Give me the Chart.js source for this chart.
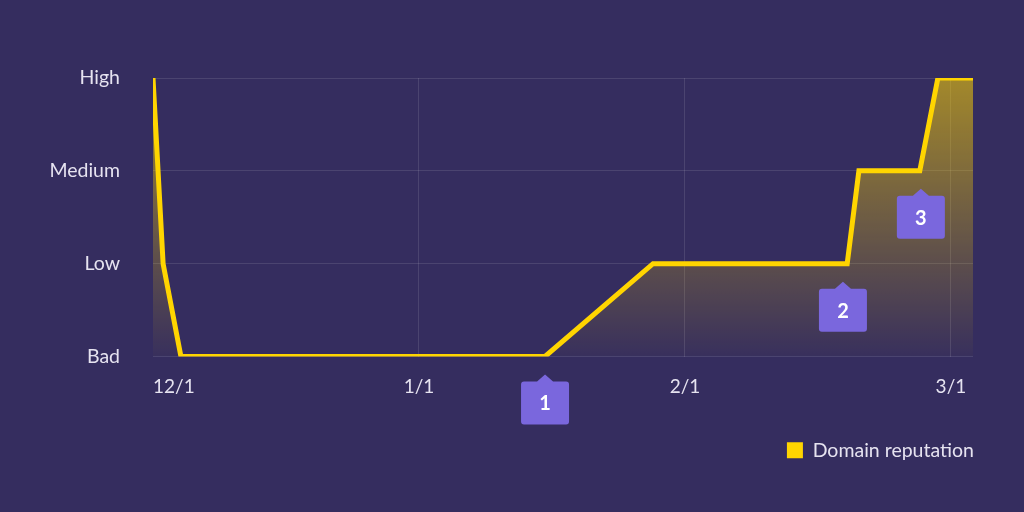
<!DOCTYPE html>
<html>
<head>
<meta charset="utf-8">
<script src="https://cdn.jsdelivr.net/npm/chart.js@4/dist/chart.umd.min.js"></script>
<style>
  html, body { margin: 0; padding: 0; background: #352d5f; }
  #wrap { width: 1024px; height: 512px; }
</style>
</head>
<body>
<div id="wrap"><canvas id="chart" width="1024" height="512"></canvas></div>
<script>
// reputation levels, bottom to top
const levels = ['Bad', 'Low', 'Medium', 'High'];
// x in months since 12/1
const monthLabels = ['12/1', '1/1', '2/1', '3/1'];
const xMax = 3.083;
const pointX = [0, 0.038, 0.105, 1.474, 1.88, 2.61, 2.654, 2.883, 2.951, 3.083];
const pointLevel = [3, 1, 0, 0, 1, 1, 2, 2, 3, 3];
// numbered callouts under the line
const markerText = ['1', '2', '3'];
const markerX = [1.474, 2.594, 2.887];
const markerLevel = [0, 1, 2];

const yellow = '#ffd500';
const textColor = '#e6e3f0';
const gridColor = 'rgba(255,255,255,0.11)';

const markers = {
    id: 'markers',
    afterDatasetsDraw(chart) {
        const { ctx, scales: { x, y } } = chart;
        ctx.save();
        markerText.forEach((t, i) => {
            const px = x.getPixelForValue(markerX[i]);
            const tip = y.getPixelForValue(markerLevel[i]) + 18;
            const w = 48, h = 43, top = tip + 7, left = px - 24, r = 3;
            ctx.fillStyle = '#7a67dd';
            ctx.beginPath();
            ctx.moveTo(left + r, top);
            ctx.lineTo(px - 8, top);
            ctx.lineTo(px, tip);
            ctx.lineTo(px + 8, top);
            ctx.lineTo(left + w - r, top);
            ctx.quadraticCurveTo(left + w, top, left + w, top + r);
            ctx.lineTo(left + w, top + h - r);
            ctx.quadraticCurveTo(left + w, top + h, left + w - r, top + h);
            ctx.lineTo(left + r, top + h);
            ctx.quadraticCurveTo(left, top + h, left, top + h - r);
            ctx.lineTo(left, top + r);
            ctx.quadraticCurveTo(left, top, left + r, top);
            ctx.fill();
            ctx.fillStyle = '#ffffff';
            ctx.font = 'bold 20px Lato';
            ctx.textAlign = 'center';
            ctx.textBaseline = 'middle';
            ctx.fillText(t, px, top + h / 2 + 1);
        });
        ctx.restore();
    }
};

// push the legend flush with the plot's right edge
const legendShift = {
    id: 'legendShift',
    afterLayout(chart) {
        if (chart.legend) {
            chart.legend.left += 11;
            chart.legend.right += 11;
        }
    }
};

const canvas = document.getElementById('chart');
new Chart(canvas.getContext('2d'), {
    type: 'line',
    data: {
        datasets: [{
            label: 'Domain reputation',
            data: pointX.map((v, i) => ({ x: v, y: pointLevel[i] })),
            borderColor: yellow,
            backgroundColor: yellow,
            borderWidth: 5,
            borderJoinStyle: 'miter',
            pointRadius: 0,
            tension: 0,
            fill: {
                target: 'origin',
                above: function(context) {
                    const area = context.chart.chartArea;
                    if (!area) return 'rgba(255,213,0,0.3)';
                    const g = context.chart.ctx.createLinearGradient(0, area.top, 0, area.bottom);
                    g.addColorStop(0, 'rgba(255,213,0,0.55)');
                    g.addColorStop(1, 'rgba(255,213,0,0.02)');
                    return g;
                }
            }
        }]
    },
    options: {
        responsive: false,
        animation: false,
        layout: { padding: { left: 50, right: 51, top: 78, bottom: 42 } },
        scales: {
            x: {
                type: 'linear',
                min: 0,
                max: xMax,
                afterBuildTicks: scale => {
                    scale.ticks = [0, 1, 2, 3, xMax].map(v => ({ value: v }));
                },
                afterFit: scale => { scale.height = 74; },
                ticks: {
                    align: 'inner',
                    color: textColor,
                    font: { family: 'Lato', size: 19 },
                    padding: 19,
                    maxRotation: 0,
                    callback: v => monthLabels[v] || ''
                },
                grid: {
                    drawTicks: false,
                    color: ctx => (ctx.tick && (ctx.tick.value === 0 || ctx.tick.value === xMax)) ? 'transparent' : gridColor
                },
                border: { display: false }
            },
            y: {
                type: 'linear',
                min: 0,
                max: 3,
                afterFit: scale => { scale.width = 103; },
                ticks: {
                    stepSize: 1,
                    color: textColor,
                    font: { family: 'Lato', size: 19.5 },
                    padding: 33,
                    callback: v => levels[v]
                },
                grid: { drawTicks: false, color: gridColor },
                border: { display: false }
            }
        },
        plugins: {
            legend: {
                position: 'bottom',
                align: 'end',
                labels: {
                    color: textColor,
                    font: { family: 'Lato', size: 19.5 },
                    boxWidth: 16,
                    boxHeight: 16,
                    padding: 10,
                    generateLabels: chart => [{
                        text: 'Domain reputation',
                        fillStyle: yellow,
                        strokeStyle: yellow,
                        lineWidth: 0,
                        fontColor: textColor,
                        datasetIndex: 0
                    }]
                }
            },
            tooltip: { enabled: false }
        }
    },
    plugins: [markers, legendShift]
});
</script>
</body>
</html>
